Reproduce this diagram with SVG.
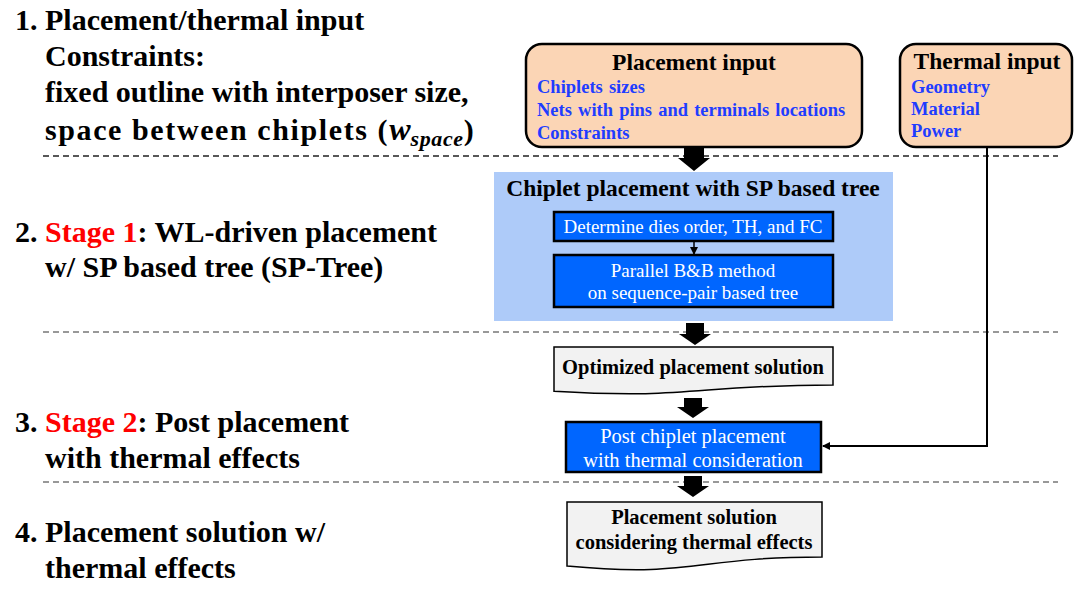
<svg xmlns="http://www.w3.org/2000/svg" width="1080" height="589" viewBox="0 0 1080 589">
<defs>
<style>
.lt{font-family:"Liberation Serif","Times New Roman",serif;font-weight:bold;font-size:30px;fill:#000}
.red{fill:#FF0000}
.ttl{font-family:"Liberation Serif","Times New Roman",serif;font-weight:bold;font-size:23.5px;fill:#000}
.itm{font-family:"Liberation Serif","Times New Roman",serif;font-weight:bold;font-size:18.5px;fill:#1F3DFF}
.wt{font-family:"Liberation Serif","Times New Roman",serif;font-size:19px;fill:#fff;text-anchor:middle}
.wt2{font-family:"Liberation Serif","Times New Roman",serif;font-size:20.5px;fill:#fff;text-anchor:middle}
.dt{font-family:"Liberation Serif","Times New Roman",serif;font-weight:bold;font-size:20.5px;fill:#000;text-anchor:middle}
.inbox{fill:#FBD5B5;stroke:#000;stroke-width:2.5}
.bbox{fill:#0066FF;stroke:#000;stroke-width:2.5}
.doc{fill:#F2F2F2;stroke:#000;stroke-width:1.5}
.dash{stroke:#777;stroke-width:1.5;stroke-dasharray:6 4;fill:none}
.blk{fill:#000}
</style>
<marker id="ah" markerWidth="8" markerHeight="8" refX="7" refY="4" orient="auto" markerUnits="userSpaceOnUse">
<path d="M0,0 L8,4 L0,8 Z" fill="#000"/>
</marker>
</defs>
<rect width="1080" height="589" fill="#fff"/>

<g id="left-labels">
<text class="lt" x="15" y="30">1. Placement/thermal input</text>
<text class="lt" x="45" y="66">Constraints:</text>
<text class="lt" x="45" y="102">fixed outline with interposer size,</text>
<text class="lt" x="45" y="140"><tspan letter-spacing="1.6">space between chiplets (</tspan><tspan font-style="italic" font-size="32px">w</tspan><tspan font-style="italic" font-size="22px" letter-spacing="0.6" dy="6">space</tspan><tspan dy="-6">)</tspan></text>
<text class="lt" x="15" y="242">2. <tspan class="red">Stage 1</tspan>: WL-driven placement</text>
<text class="lt" x="45" y="277">w/ SP based tree (SP-Tree)</text>
<text class="lt" x="15" y="432">3. <tspan class="red">Stage 2</tspan>: Post placement</text>
<text class="lt" x="45" y="468">with thermal effects</text>
<text class="lt" x="15" y="542">4. Placement solution w/</text>
<text class="lt" x="45" y="578">thermal effects</text>
</g>

<g id="dividers">
<line class="dash" x1="43" y1="156" x2="1058" y2="156" style="stroke:#222"/>
<line class="dash" x1="43" y1="332" x2="1058" y2="332"/>
<line class="dash" x1="43" y1="482" x2="1058" y2="482"/>
</g>

<g id="stage1-region">
<rect x="494" y="172" width="399" height="149" fill="#AECBF9"/>
<text class="ttl" x="693" y="196" text-anchor="middle">Chiplet placement with SP based tree</text>
</g>

<g id="placement-input">
<rect class="inbox" x="526" y="44" width="336" height="103" rx="16"/>
<text class="ttl" x="694" y="70" text-anchor="middle">Placement input</text>
<text class="itm" x="537" y="93" word-spacing="1.5">Chiplets sizes</text>
<text class="itm" x="537" y="116" word-spacing="1.5">Nets with pins and terminals locations</text>
<text class="itm" x="537" y="139">Constraints</text>
</g>

<g id="thermal-input">
<rect class="inbox" x="900" y="44" width="172" height="103" rx="16"/>
<text class="ttl" x="987" y="69" text-anchor="middle">Thermal input</text>
<text class="itm" x="911" y="93">Geometry</text>
<text class="itm" x="911" y="115">Material</text>
<text class="itm" x="911" y="137">Power</text>
</g>

<g id="determine">
<rect class="bbox" x="554" y="212" width="279" height="29"/>
<text class="wt" x="693" y="233">Determine dies order, TH, and FC</text>
</g>

<g id="parallel-bb">
<rect class="bbox" x="554" y="255" width="279" height="52"/>
<text class="wt" x="693" y="277">Parallel B&amp;B method</text>
<text class="wt" x="693" y="299">on sequence-pair based tree</text>
</g>

<g id="optimized">
<path class="doc" d="M554,347 H833 V385 C693.5,385 693.5,399.5 554,391.3 Z"/>
<text class="dt" x="693" y="374">Optimized placement solution</text>
</g>

<g id="post-placement">
<rect class="bbox" x="566" y="422" width="255" height="50"/>
<text class="wt2" x="693" y="443">Post chiplet placement</text>
<text class="wt2" x="693" y="467">with thermal consideration</text>
</g>

<g id="final-solution">
<path class="doc" d="M567,502 H822 V557 C694.5,557 694.5,578 567,566 Z"/>
<text class="dt" x="694" y="524">Placement solution</text>
<text class="dt" x="694" y="549">considering thermal effects</text>
</g>

<g id="connectors">
<path class="blk" d="M684,148 H704 V158 H710 L694,171 L678,158 H684 Z"/>
<path class="blk" d="M686,323 H704 V334 H711 L695,345 L679,334 H686 Z"/>
<path class="blk" d="M684,398 H702 V407 H709 L693,418 L677,407 H684 Z"/>
<path class="blk" d="M684,476 H702 V486 H709 L693,497 L677,486 H684 Z"/>
<line x1="694" y1="241" x2="694" y2="254" stroke="#000" stroke-width="1.5" marker-end="url(#ah)"/>
<polyline points="987,147 987,446 823,446" fill="none" stroke="#000" stroke-width="2" marker-end="url(#ah)"/>
</g>
</svg>
